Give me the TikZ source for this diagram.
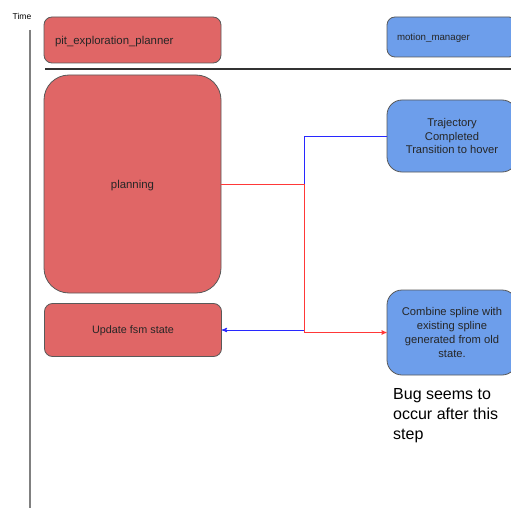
\documentclass[tikz,border=0pt]{standalone}
\usepackage{fontspec}
\setmainfont{Liberation Sans}
\usepackage{xcolor}
\usetikzlibrary{arrows,shapes}

\definecolor{boxred}{HTML}{E06666}
\definecolor{boxblue}{HTML}{6D9EEB}
\definecolor{boxline}{HTML}{595959}
\definecolor{linkred}{HTML}{FF3838}
\definecolor{linkblue}{HTML}{2828FF}

\begin{document}
\begin{tikzpicture}[x=1pt, y=-1pt, ->, >=stealth']

	\tikzstyle{redbox}=[draw=boxline, line width=0.8pt, fill=boxred, rounded corners=8pt, minimum width=177pt, inner sep=0pt, text=black!85]
	\tikzstyle{bluebox}=[draw=boxline, line width=0.8pt, fill=boxblue, rounded corners=15pt, minimum width=130pt, inner sep=0pt, text=black!85]
	\clip (0,0) rectangle (511,508);
	\useasboundingbox (0,0) rectangle (511,508);

	% timeline and headers
	\node[font=\fontsize{8.5}{10}\selectfont] (time) at (22,16) {Time};
	\coordinate (ttop) at (30,30);
	\coordinate (tbot) at (30,508);
	\draw[-, gray, line width=1.5pt] (ttop) -- (tbot);
	\node[redbox, minimum height=46pt, text width=155pt, inner xsep=11pt, align=left, text depth=0pt, font=\fontsize{11.4}{13.7}\selectfont] (pit) at (132.5,40) {pit\_exploration\_planner};
	\node[bluebox, rounded corners=8pt, minimum height=40pt, text width=110pt, inner xsep=10pt, align=left, text depth=0pt, font=\fontsize{9.7}{12}\selectfont] (mgr) at (452,37) {motion\_manager};
	\coordinate (hl) at (45,69);
	\coordinate (hr) at (520,69);
	\draw[-, black!80, line width=2pt] (hl) -- (hr);

	% planner side
	\node[redbox, rounded corners=25pt, minimum height=218pt, text depth=0pt, font=\fontsize{11.4}{13.7}\selectfont] (planning) at (132.5,184) {planning};
	\node[redbox, minimum height=53pt, text depth=0pt, font=\fontsize{10.8}{13}\selectfont] (update) at (133,330) {Update fsm state};

	% manager side
	\node[bluebox, minimum height=72pt, align=center, font=\fontsize{11.2}{13.7}\selectfont] (traj) at (452,136) {Trajectory\\Completed\\Transition to hover};
	\node[bluebox, minimum height=85pt, align=center, font=\fontsize{11.2}{13.7}\selectfont] (combine) at (452,332.5) {Combine spline with\\existing spline\\generated from old\\state.};
	\node[anchor=north west, inner sep=0pt, align=left, font=\fontsize{16}{20}\selectfont] (bug) at (393,388) {Bug seems to\\occur after this\\step};

	% From traj to update
	\coordinate (split) at (304,184);
	\draw[linkblue, line width=0.9pt] (traj.west) -| (split |- update.east) -- (update.east);
	% From planning to combine
	\draw[linkred, line width=0.9pt] (planning.east) -- (split) |- (combine.west);

\end{tikzpicture}
\end{document}
